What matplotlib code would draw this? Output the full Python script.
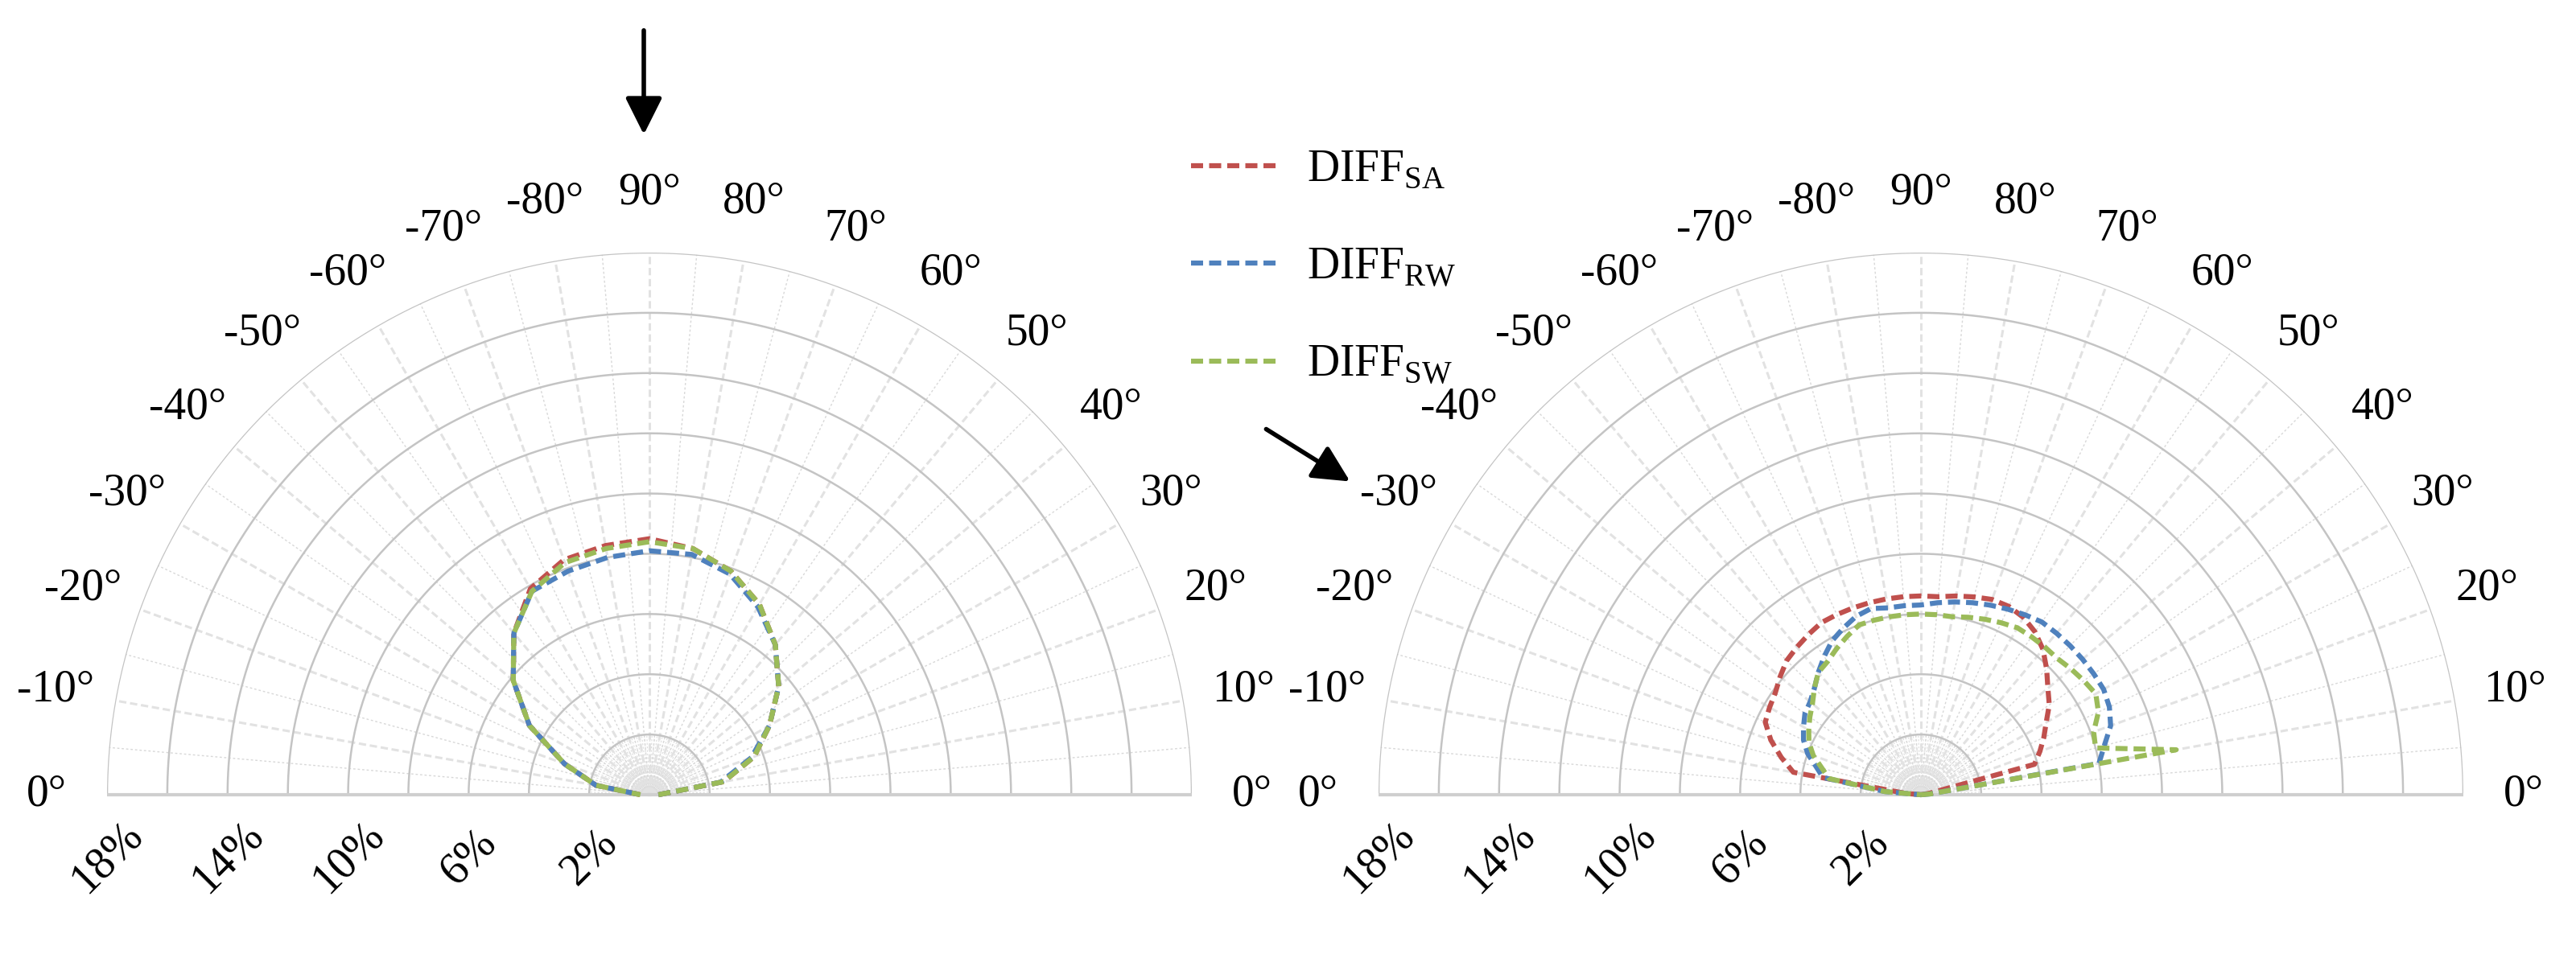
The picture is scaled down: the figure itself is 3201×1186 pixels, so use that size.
import numpy as np
import matplotlib
matplotlib.use("Agg")
import matplotlib.pyplot as plt
from matplotlib.transforms import offset_copy

# ---------------- data ----------------
# polar angle (0 = right, 180 = left); labels follow the reference convention
left_angles = list(range(0, 181, 10))
left_SA = [0.3, 2.5, 3.7, 4.6, 5.6, 6.5, 7.3, 7.9, 8.3, 8.5, 8.4, 8.3, 7.9, 7.0, 5.9, 4.6, 3.0, 1.8, 0.3]
left_RW = [0.3, 2.4, 3.6, 4.6, 5.6, 6.5, 7.2, 7.8, 8.1, 8.1, 8.0, 7.9, 7.8, 7.0, 5.9, 4.6, 3.0, 1.8, 0.3]
left_SW = [0.3, 2.5, 3.7, 4.6, 5.6, 6.5, 7.3, 7.9, 8.3, 8.4, 8.3, 8.2, 7.8, 7.0, 5.9, 4.6, 3.0, 1.8, 0.3]

right_angles = list(range(0, 181, 5))
right_SA = [0, 0, 0.3, 3.9, 4.2, 4.5, 4.8, 5.2, 5.5, 5.9, 6.3, 6.6, 6.8, 6.9, 6.9, 6.8, 6.7, 6.6, 6.6,
            6.6, 6.6, 6.6, 6.6, 6.6, 6.6, 6.5, 6.4, 6.3, 6.1, 5.9, 5.8, 5.7, 5.3, 4.8, 4.3, 0.5, 0]
right_RW = [0, 0.3, 6.0, 6.3, 6.7, 6.9, 7.0, 7.0, 7.0, 7.0, 7.0, 7.0, 6.9, 6.8, 6.7, 6.6, 6.5, 6.4, 6.3,
            6.3, 6.3, 6.4, 6.3, 6.1, 5.9, 5.6, 5.3, 5.0, 4.8, 4.7, 4.5, 4.3, 4.0, 3.6, 3.3, 1.2, 0]
right_SW = [0, 0.3, 8.6, 6.0, 6.1, 6.5, 6.7, 6.6, 6.5, 6.4, 6.4, 6.4, 6.4, 6.3, 6.2, 6.1, 6.0, 6.0, 6.0,
            6.0, 6.0, 6.0, 6.0, 5.8, 5.6, 5.4, 5.3, 5.0, 4.7, 4.5, 4.3, 4.1, 3.8, 3.4, 3.1, 1.2, 0]

ring_values = [2, 4, 6, 8, 10, 12, 14, 16, 18]
ring_labels = ["18%", "14%", "10%", "6%", "2%"]
ring_label_values = [18, 14, 10, 6, 2]
angle_ticks = list(range(0, 181, 10))
angle_labels = ["0°", "10°", "20°", "30°", "40°", "50°", "60°", "70°", "80°", "90°",
                "-80°", "-70°", "-60°", "-50°", "-40°", "-30°", "-20°", "-10°", "0°"]
series_names = [r"DIFF$_{\mathregular{SA}}$", r"DIFF$_{\mathregular{RW}}$", r"DIFF$_{\mathregular{SW}}$"]
colors = ["#C0504D", "#4F81BD", "#9BBB59"]

plt.rcParams['font.family'] = ['Liberation Serif', 'DejaVu Serif']
plt.rcParams['mathtext.fontset'] = 'custom'
plt.rcParams['mathtext.rm'] = 'Liberation Serif'

W, H = 3201, 1186
fig = plt.figure(figsize=(W / 100, H / 100), dpi=100)
R = 674
FS = 40
DASH = (0, (2.4, 1.2))


def make_ax(cx, cy):
    ax = fig.add_axes([(cx - R) / W, (H - cy - R) / H, 2 * R / W, 2 * R / H], projection='polar')
    ax.set_ylim(0, 18)
    ax.grid(False)
    ax.set_xticks([])
    ax.set_yticks([])
    ax.patch.set_visible(False)
    for s in ax.spines.values():
        s.set_visible(False)
    th = np.radians(np.linspace(0, 180, 361))
    for a in np.arange(0, 181, 2.5):
        ax.plot([np.radians(a)] * 2, [0, 2], color="#dddddd", lw=0.8, ls=(0, (2, 2)), zorder=1)
    for a in np.arange(5, 180, 10):
        ax.plot([np.radians(a)] * 2, [0, 18], color="#d8d8d8", lw=1.0, ls=(0, (2, 2)), zorder=1)
    for a in range(10, 180, 10):
        ax.plot([np.radians(a)] * 2, [0, 18], color="#e2e2e2", lw=2.2, ls=(0, (3, 1.5)), zorder=1)
    for r in ring_values:
        ax.plot(th, [r] * len(th), color="#c4c4c4", lw=1.8, zorder=2)
    ax.plot([0, 0], [0, 18], color="#cfcfcf", lw=3, zorder=2)
    ax.plot([np.pi, np.pi], [0, 18], color="#cfcfcf", lw=3, zorder=2)
    for a, lab in zip(angle_ticks, angle_labels):
        ax.text(np.radians(a), 20.0, lab, ha='center', va='center', fontsize=FS, clip_on=False)
    tr = offset_copy(ax.transData, fig=fig, x=0, y=-78, units='dots')
    for v, lab in zip(ring_label_values, ring_labels):
        ax.text(np.pi, v, lab, transform=tr, rotation=45, ha='center', va='center',
                fontsize=FS, clip_on=False, rotation_mode='anchor')
    return ax


axL = make_ax(807, 988)
axR = make_ax(2387, 988)

for vals, c, name in zip([left_SA, left_RW, left_SW], colors, series_names):
    axL.plot(np.radians(left_angles), vals, color=c, lw=4.5, ls=DASH, zorder=5, label=name)
for vals, c in zip([right_SA, right_RW, right_SW], colors):
    axR.plot(np.radians(right_angles), vals, color=c, lw=4.5, ls=DASH, zorder=5)

leg = fig.legend(loc='upper left', bbox_to_anchor=(1430 / W, 1 - 135 / H), frameon=False,
                 fontsize=FS, handlelength=1.9, labelspacing=1.25, handletextpad=0.7)

# arrows
fig.patches.append(matplotlib.patches.FancyArrowPatch((800 / W, 1 - 35 / H), (800 / W, 1 - 170 / H),
                   transform=fig.transFigure, arrowstyle='-|>,head_length=14,head_width=7',
                   color='black', lw=4, mutation_scale=2))
fig.patches.append(matplotlib.patches.FancyArrowPatch((1571 / W, 1 - 532 / H), (1680 / W, 1 - 600 / H),
                   transform=fig.transFigure, arrowstyle='-|>,head_length=14,head_width=7',
                   color='black', lw=4, mutation_scale=2))

fig.savefig("out.png", dpi=100, facecolor='white')
